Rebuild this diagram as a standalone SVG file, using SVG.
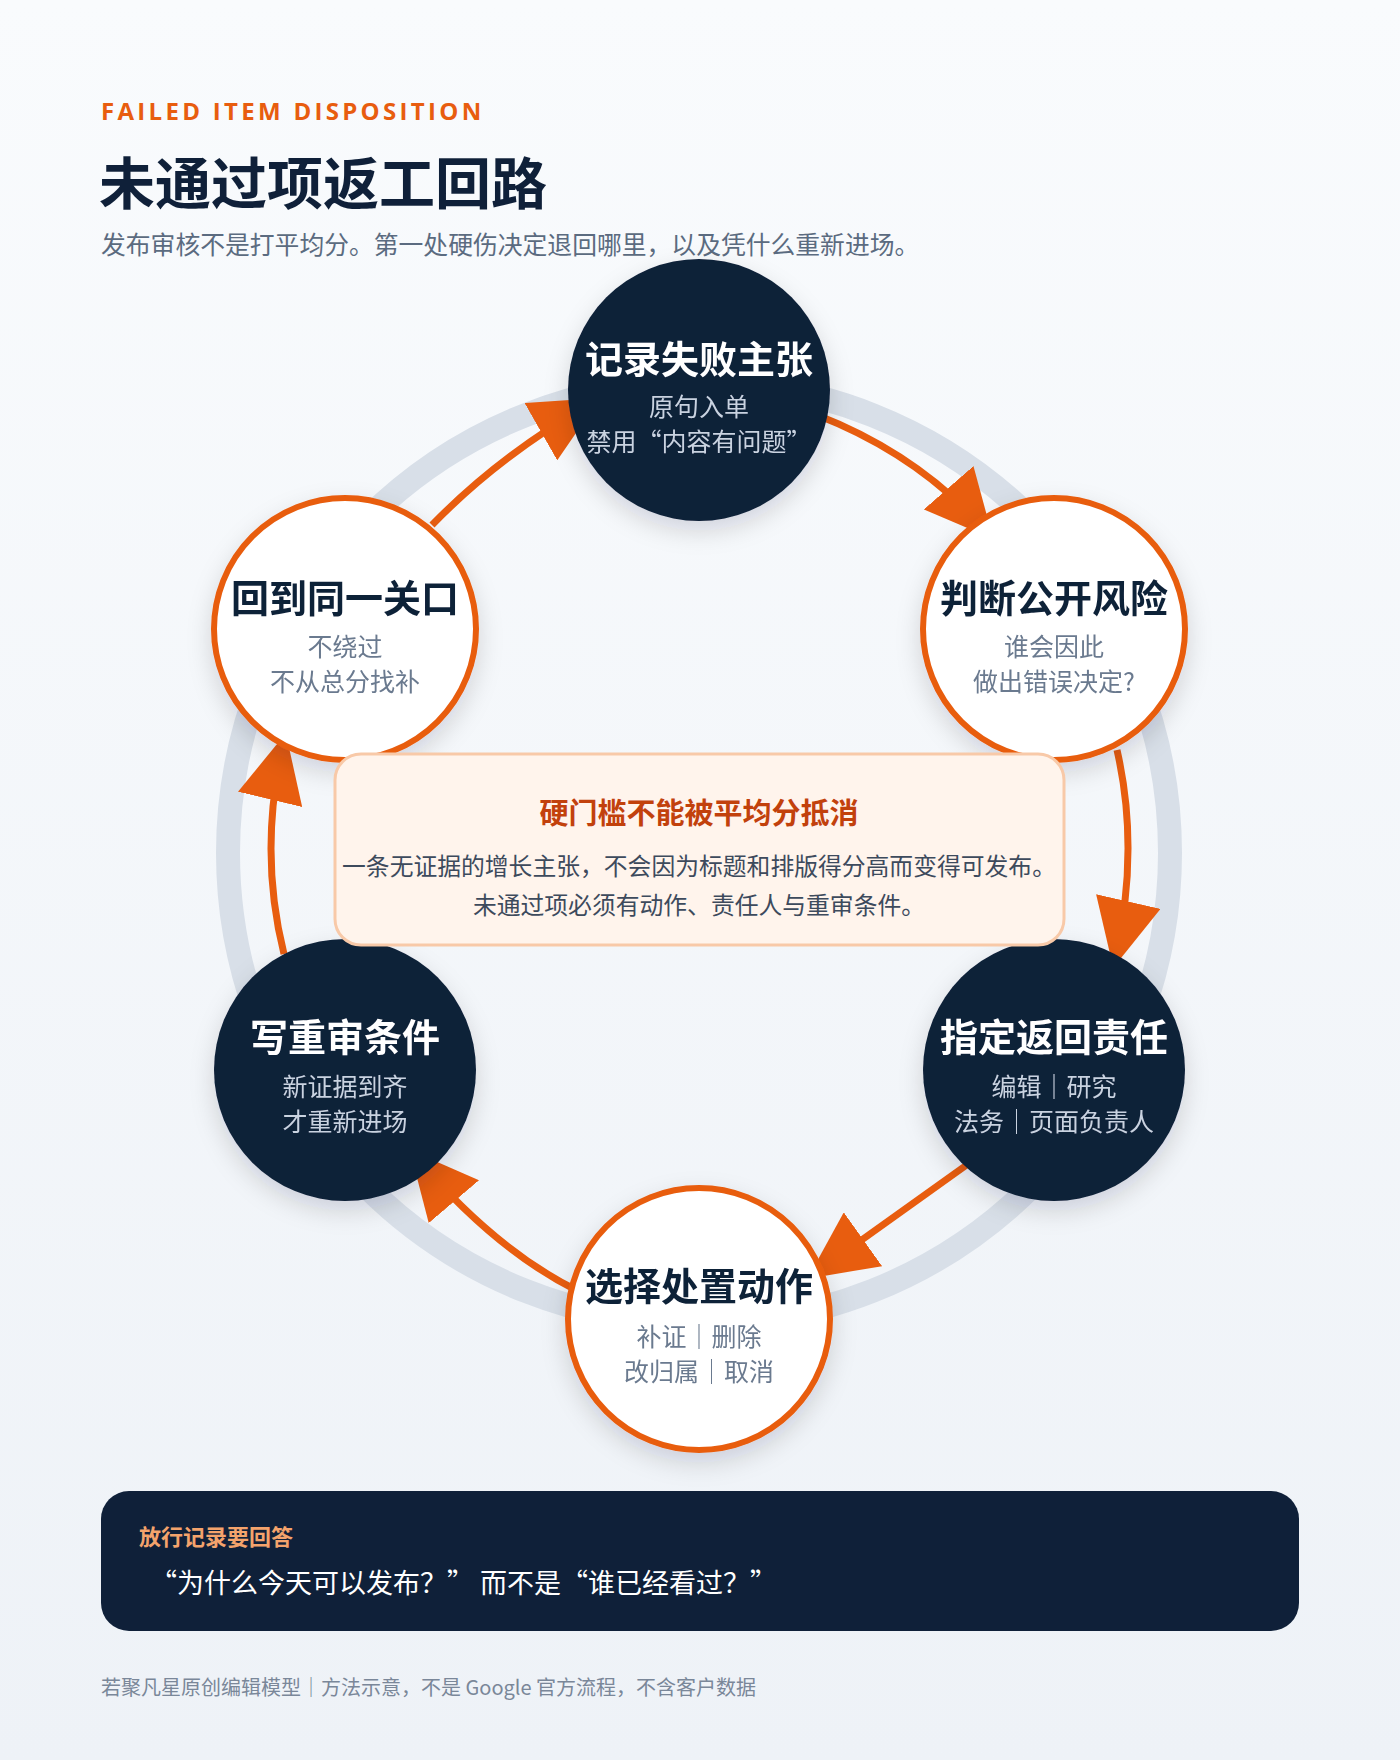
<svg xmlns="http://www.w3.org/2000/svg" width="1400" height="1760" viewBox="0 0 1400 1760">
<defs>
<linearGradient id="bg" x1="0" y1="0" x2="0" y2="1"><stop offset="0" stop-color="#f9fbfd"/><stop offset="1" stop-color="#eef2f7"/></linearGradient>
<filter id="sh" x="-30%" y="-30%" width="160%" height="160%"><feDropShadow dx="0" dy="10" stdDeviation="12" flood-color="#0f1f38" flood-opacity="0.15"/></filter>
<marker id="ah" markerUnits="userSpaceOnUse" markerWidth="72" markerHeight="66" refX="60" refY="33" orient="auto"><path d="M0,0 L68,33 L0,66 Z" fill="#e85d0f"/></marker>
<style>
text{font-family:"Noto Sans CJK SC","Noto Sans",sans-serif}
.dk{fill:#0f2039}
.wt{fill:#fff;stroke:#e85d0f;stroke-width:6}
.t{font-size:38px;font-weight:700;text-anchor:middle}
.s{font-size:25px;text-anchor:middle}
.dk-t{fill:#fff}.dk-s{fill:#c9d3e0}
.wt-t{fill:#0f2039}.wt-s{fill:#6b7a8f}
.ar{fill:none;stroke:#e85d0f;stroke-width:7;marker-end:url(#ah)}
</style>
</defs>
<rect width="1400" height="1760" fill="url(#bg)"/>
<text x="101" y="120" font-size="24" font-weight="700" fill="#e85d0f" letter-spacing="3.3" style="font-family:'Open Sans','Noto Sans',sans-serif">FAILED ITEM DISPOSITION</text>
<text x="99" y="204" font-size="56" font-weight="700" fill="#0f2039">未通过项返工回路</text>
<text x="101" y="254" font-size="24.8" fill="#5b6b80">发布审核不是打平均分。第一处硬伤决定退回哪里，以及凭什么重新进场。</text>
<circle cx="699" cy="853" r="471" fill="none" stroke="#d8dfe8" stroke-width="24"/>
<g id="connectors">
<path class="ar" d="M817,415 Q920,455 988,533"/>
<path class="ar" d="M1117,750 Q1140,850 1115,960"/>
<path class="ar" d="M968,1164 Q890,1220 814,1274"/>
<path class="ar" d="M578,1291 Q495,1250 415,1156"/>
<path class="ar" d="M284,954 Q258,850 284,741"/>
<path class="ar" d="M432,525 Q500,455 593,402"/>
</g>
<g id="n1" filter="url(#sh)"><circle class="dk" cx="699" cy="390" r="131"/><text class="t dk-t" x="699" y="373">记录失败主张</text><text class="s dk-s" x="699" y="416">原句入单</text><text class="s dk-s" x="699" y="451">禁用“内容有问题”</text></g>
<g id="n2" filter="url(#sh)"><circle class="wt" cx="1054" cy="629" r="131"/><text class="t wt-t" x="1054" y="612">判断公开风险</text><text class="s wt-s" x="1054" y="656">谁会因此</text><text class="s wt-s" x="1054" y="691">做出错误决定?</text></g>
<g id="n3" filter="url(#sh)"><circle class="dk" cx="1054" cy="1070" r="131"/><text class="t dk-t" x="1054" y="1051">指定返回责任</text><text class="s dk-s" x="1054" y="1096">编辑｜研究</text><text class="s dk-s" x="1054" y="1131">法务｜页面负责人</text></g>
<g id="n4" filter="url(#sh)"><circle class="wt" cx="699" cy="1319" r="131"/><text class="t wt-t" x="699" y="1300">选择处置动作</text><text class="s wt-s" x="699" y="1346">补证｜删除</text><text class="s wt-s" x="699" y="1381">改归属｜取消</text></g>
<g id="n5" filter="url(#sh)"><circle class="dk" cx="345" cy="1070" r="131"/><text class="t dk-t" x="345" y="1051">写重审条件</text><text class="s dk-s" x="345" y="1096">新证据到齐</text><text class="s dk-s" x="345" y="1131">才重新进场</text></g>
<g id="n6" filter="url(#sh)"><circle class="wt" cx="345" cy="629" r="131"/><text class="t wt-t" x="345" y="612">回到同一关口</text><text class="s wt-s" x="345" y="656">不绕过</text><text class="s wt-s" x="345" y="691">不从总分找补</text></g>
<g id="center"><rect x="335" y="754" width="729" height="191" rx="26" fill="#fff4ec" stroke="#f8c9a8" stroke-width="3"/>
<text x="699" y="824" font-size="29" font-weight="700" fill="#c2410c" text-anchor="middle">硬门槛不能被平均分抵消</text>
<text x="699" y="875" font-size="23.8" fill="#3d4a5c" text-anchor="middle">一条无证据的增长主张，不会因为标题和排版得分高而变得可发布。</text>
<text x="699" y="914" font-size="23.8" fill="#3d4a5c" text-anchor="middle">未通过项必须有动作、责任人与重审条件。</text></g>
<g id="bar"><rect x="101" y="1491" width="1198" height="140" rx="28" fill="#0f2039"/>
<text x="139" y="1545" font-size="22" font-weight="700" fill="#f4a36c">放行记录要回答</text>
<text x="150" y="1593" font-size="27" fill="#fff">“为什么今天可以发布？” 而不是“谁已经看过？”</text></g>
<text x="101" y="1695" font-size="20" fill="#7a8799">若聚凡星原创编辑模型｜方法示意，不是 Google 官方流程，不含客户数据</text>
</svg>
